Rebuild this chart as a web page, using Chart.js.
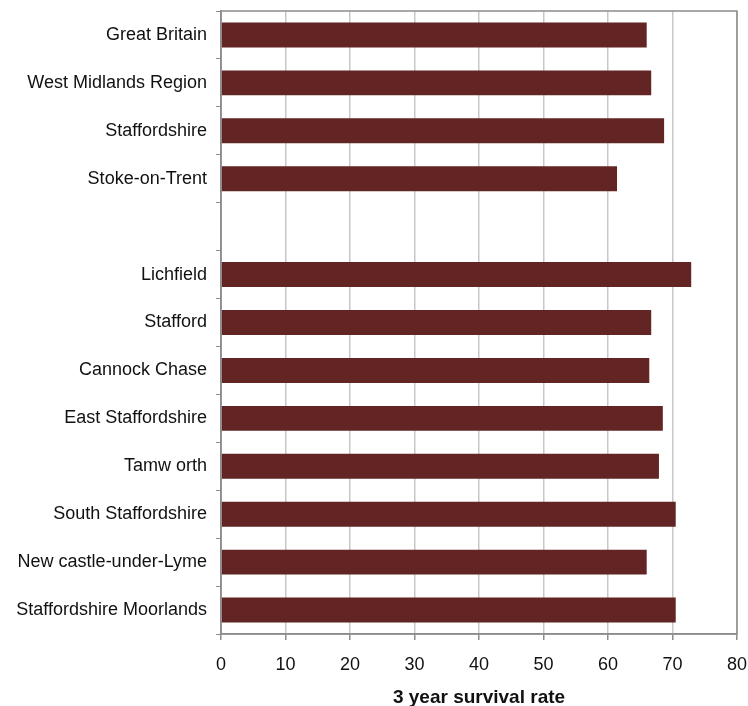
<!DOCTYPE html>
<html>
<head>
<meta charset="utf-8">
<script src="https://cdn.jsdelivr.net/npm/chart.js@4/dist/chart.umd.min.js"></script>
<style>
html,body{margin:0;padding:0;background:#fff;}
#wrap{width:748px;height:706px;position:relative;}
</style>
</head>
<body>
<div id="wrap"><canvas id="c" width="748" height="706"></canvas></div>
<script>
const categories = ["Great Britain","West Midlands Region","Staffordshire","Stoke-on-Trent","","Lichfield","Stafford","Cannock Chase","East Staffordshire","Tamw orth","South Staffordshire","New castle-under-Lyme","Staffordshire Moorlands"];
const survivalRate = [66.0,66.7,68.7,61.4,null,72.9,66.7,66.4,68.5,67.9,70.5,66.0,70.5];
const xTicks = [0,10,20,30,40,50,60,70,80];
const xTitle = "3 year survival rate";

const borderPlugin = {
  id:'plotBorder',
  afterDraw(chart){
    const a = chart.chartArea, ctx = chart.ctx;
    ctx.save();
    ctx.strokeStyle = '#8c8c8c';
    ctx.lineWidth = 1.5;
    ctx.strokeRect(a.left, a.top, a.right - a.left, a.bottom - a.top);
    ctx.restore();
  }
};

new Chart(document.getElementById('c'), {
  type:'bar',
  data:{
    labels:categories,
    datasets:[{
      data:survivalRate,
      backgroundColor:'#632523',
      borderWidth:0,
      barPercentage:0.52,
      categoryPercentage:1.0
    }]
  },
  options:{
    indexAxis:'y',
    responsive:false,
    animation:false,
    events:[],
    layout:{padding:{top:11,right:11,left:0,bottom:0}},
    plugins:{legend:{display:false},tooltip:{enabled:false}},
    scales:{
      x:{
        min:0,max:80,
        afterBuildTicks(s){ s.ticks = xTicks.map(v=>({value:v})); },
        afterFit(s){ s.height = 72; s.paddingLeft = 0; s.paddingRight = 0; },
        grid:{color:'#c8c8c8',lineWidth:1.5,tickLength:6,tickColor:'#8c8c8c',drawTicks:true},
        border:{color:'#8c8c8c',width:1.5},
        ticks:{color:'#111',font:{family:'Liberation Sans, Arial',size:18},padding:14,maxRotation:0},
        title:{display:true,text:xTitle,color:'#111',font:{family:'Liberation Sans, Arial',size:19,weight:'bold'},padding:{top:4,bottom:-3}}
      },
      y:{
        afterFit(s){ s.width = 221; s.paddingTop = 0; s.paddingBottom = 0; },
        grid:{drawOnChartArea:false,drawTicks:true,tickLength:5,tickColor:'#8c8c8c',offset:true},
        border:{color:'#8c8c8c',width:1.5},
        ticks:{color:'#111',font:{family:'Liberation Sans, Arial',size:18},padding:9,autoSkip:false}
      }
    }
  },
  plugins:[borderPlugin]
});
</script>
</body>
</html>
